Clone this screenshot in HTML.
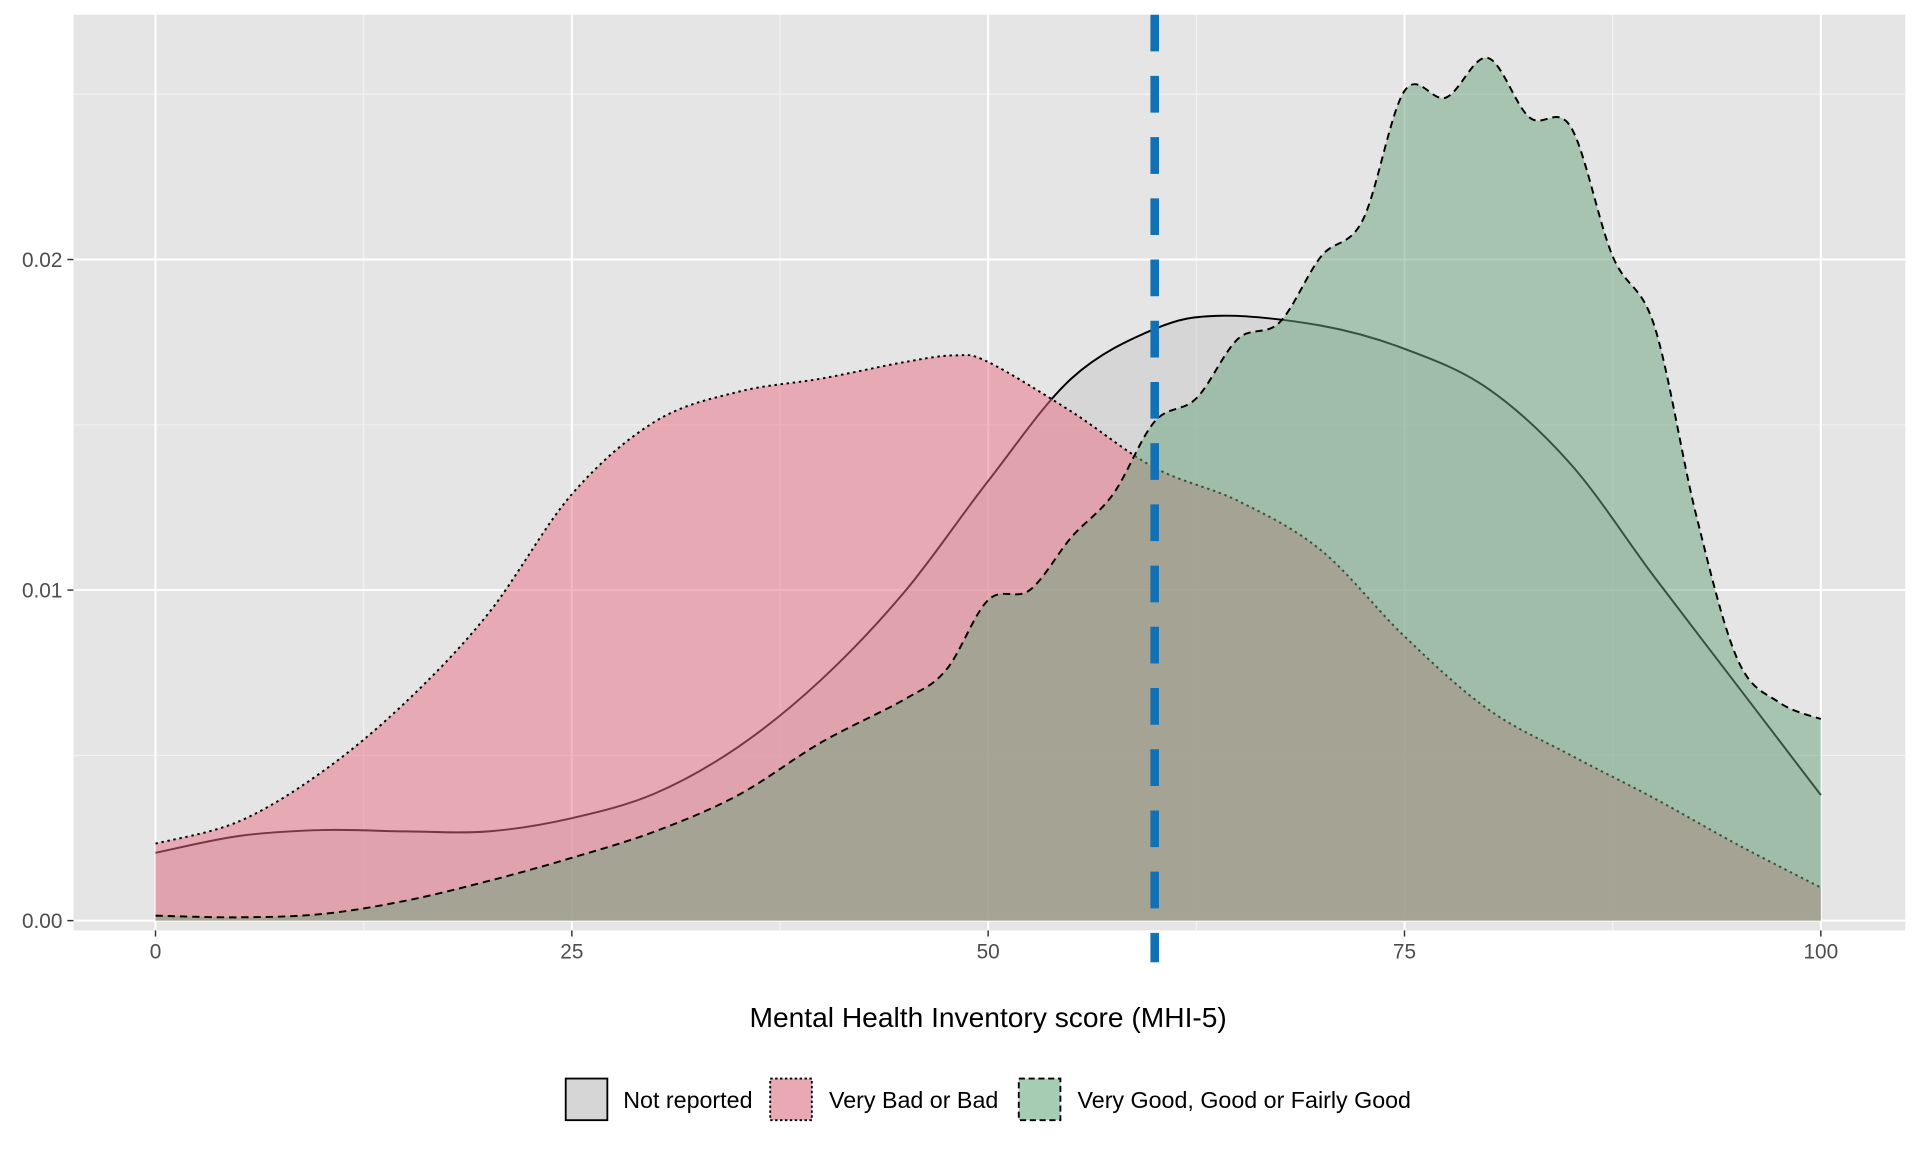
<!DOCTYPE html>
<html><head><meta charset="utf-8"><style>
html,body{margin:0;padding:0;background:#fff;}
svg{display:block;font-family:"Liberation Sans",Arial,sans-serif;}
</style></head><body>
<svg id="chart" width="1920" height="1152" viewBox="0 0 1568 941" preserveAspectRatio="none" xmlns="http://www.w3.org/2000/svg">
<rect x="60" y="12" width="1496" height="748" fill="#e5e5e5"/>
<g id="grid"></g>
<g id="series"></g>
<line id="vline" y1="12" y2="786" stroke="#1270b5" stroke-width="7" stroke-dasharray="30,20"/>
<g id="axes"></g>
<text x="807" y="839" font-size="23" text-anchor="middle">Mental Health Inventory score (MHI-5)</text>
<g font-size="19">
 <g>
  <rect x="462" y="881" width="34" height="34" fill="#d6d6d6" stroke="#000" stroke-width="1.5"/>
  <text x="509" y="905">Not reported</text></g>
 <g>
  <rect x="629" y="881" width="34" height="34" fill="#e8a9b4" stroke="#000" stroke-width="1.5" stroke-dasharray="2,2"/>
  <text x="677" y="905">Very Bad or Bad</text></g>
 <g>
  <rect x="832" y="881" width="34" height="34" fill="#a6ccb4" stroke="#000" stroke-width="1.5" stroke-dasharray="5,3"/>
  <text x="880" y="905">Very Good, Good or Fairly Good</text></g>
</g>
</svg>
<script>
const notX=[0,5,10,15,20,25,30,35,40,45,50,55,60,64,70,75,80,85,90,95,100];
const notY=[0.00205,0.00256,0.00274,0.0027,0.0027,0.0031,0.00385,0.00526,0.0073,0.00996,0.0133,0.0164,0.0179,0.0183,0.018,0.0173,0.0161,0.0138,0.0104,0.0071,0.0038];
const badX=[0,5,10,15,20,25,30,35,40,45,48,50,55,60,65,70,75,80,85,90,95,100];
const badY=[0.00233,0.003,0.0045,0.0066,0.0093,0.0129,0.0151,0.016,0.0164,0.0169,0.0171,0.0169,0.0154,0.0137,0.0127,0.0112,0.0086,0.0064,0.005,0.0037,0.0023,0.001];
const goodX=[0,5,10,15,20,25,30,35,40,45,47.5,50,52.5,55,57.5,60,62.5,65,67.5,70,72.5,75,77.5,80,82.5,85,87.5,90,92.5,95,97.5,100];
const goodY=[0.00015,0.0001,0.0002,0.0006,0.0012,0.0019,0.0027,0.0038,0.0054,0.0067,0.0076,0.0097,0.01,0.0116,0.0129,0.0151,0.0158,0.0176,0.0181,0.0201,0.0212,0.0251,0.0249,0.0261,0.0243,0.024,0.0201,0.018,0.0123,0.0079,0.0066,0.0061];
const xTicks=[0,25,50,75,100];
const yTicks=[0,0.01,0.02];
const yTickLabels=["0.00","0.01","0.02"];
const threshold=60;
const NS="http://www.w3.org/2000/svg";
function sx(v){return 127+v*13.6;}
function sy(v){return 752-v*27000;}
function mk(tag,attrs,parent){const e=document.createElementNS(NS,tag);for(const k in attrs)e.setAttribute(k,attrs[k]);parent.appendChild(e);return e;}
const grid=document.getElementById('grid'),axes=document.getElementById('axes'),series=document.getElementById('series');
[12.5,37.5,62.5,87.5].forEach(v=>{const l=mk('line',{x1:sx(v),x2:sx(v),y1:12,y2:760,stroke:'#f2f2f2','stroke-width':1},grid);

});
[0.005,0.015,0.025].forEach(v=>{const l=mk('line',{x1:60,x2:1556,y1:sy(v),y2:sy(v),stroke:'#f2f2f2','stroke-width':1},grid);

});
xTicks.forEach(v=>{const l=mk('line',{x1:sx(v),x2:sx(v),y1:12,y2:760,stroke:'#fff','stroke-width':1.6},grid);


const t=mk('line',{x1:sx(v),x2:sx(v),y1:760,y2:765,stroke:'#333','stroke-width':1.2},axes);


const tx=mk('text',{x:sx(v),y:783,'font-size':17,'text-anchor':'middle',fill:'#4d4d4d'},axes);tx.textContent=v;

});
yTicks.forEach((v,i)=>{const l=mk('line',{x1:60,x2:1556,y1:sy(v),y2:sy(v),stroke:'#fff','stroke-width':1.6},grid);


const t=mk('line',{x1:55,x2:60,y1:sy(v),y2:sy(v),stroke:'#333','stroke-width':1.2},axes);


const tx=mk('text',{x:51,y:sy(v)+6,'font-size':17,'text-anchor':'end',fill:'#4d4d4d'},axes);tx.textContent=yTickLabels[i];

});
function smooth(xs,ys){const p=xs.map((x,i)=>[sx(x),sy(ys[i])]);let d='M'+p[0][0]+','+p[0][1];
for(let i=0;i<p.length-1;i++){const p0=p[Math.max(i-1,0)],p1=p[i],p2=p[i+1],p3=p[Math.min(i+2,p.length-1)];
const c1=[p1[0]+(p2[0]-p0[0])/6,p1[1]+(p2[1]-p0[1])/6],c2=[p2[0]-(p3[0]-p1[0])/6,p2[1]-(p3[1]-p1[1])/6];
d+=` C${c1[0]},${c1[1]} ${c2[0]},${c2[1]} ${p2[0]},${p2[1]}`;}return d;}
function draw(xs,ys,fill,dash,name){const line=smooth(xs,ys);
const a=mk('path',{d:line+` L${sx(xs[xs.length-1])},${sy(0)} L${sx(xs[0])},${sy(0)} Z`,fill:fill,'fill-opacity':0.5,stroke:'none'},series);


const l=mk('path',{d:line,fill:'none',stroke:'#000','stroke-width':1.6,'stroke-dasharray':dash},series);

}
draw(notX,notY,'#c7c7c7','none','not-reported');
draw(badX,badY,'#e96d83','2,3','very-bad');
draw(goodX,goodY,'#67a37b','6,4','very-good');
const vl=document.getElementById('vline');vl.setAttribute('x1',sx(threshold));vl.setAttribute('x2',sx(threshold));
</script>
</body></html>
